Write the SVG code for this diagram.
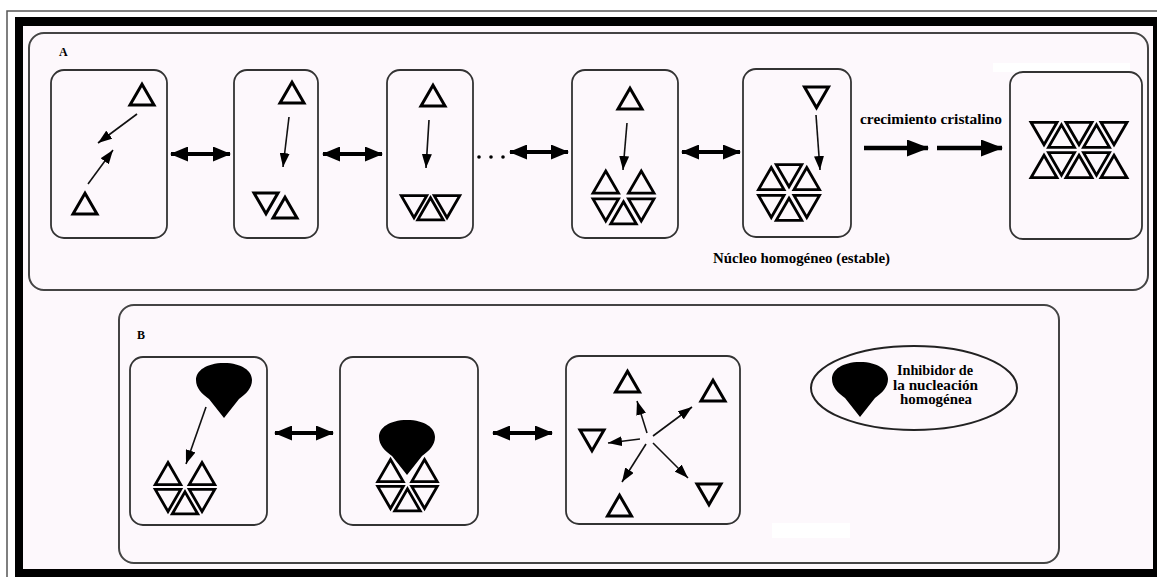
<svg xmlns="http://www.w3.org/2000/svg" xmlns:xlink="http://www.w3.org/1999/xlink" width="1157" height="577" viewBox="0 0 1157 577">
<style>
.panel{fill:none;stroke:#444;stroke-width:2}
.box{fill:none;stroke:#333;stroke-width:1.8}
.tri{fill:none;stroke:#000;stroke-width:3;stroke-linejoin:miter}
.htri{fill:none;stroke:#000;stroke-width:2.8;stroke-linejoin:miter}
.thin{stroke:#111;stroke-width:1.6;fill:none;marker-end:url(#ah)}
.dbl{stroke:#000;stroke-width:4;fill:none;marker-start:url(#dh);marker-end:url(#dh)}
.grow{stroke:#000;stroke-width:4.5;fill:none;marker-end:url(#gh)}
.lbl{font-family:"Liberation Serif","DejaVu Serif",serif;font-weight:bold;fill:#000}
.blob{fill:#000}
</style>
<defs>
<path id="tu" d="M0,-13.86 L12,6.93 L-12,6.93 Z"/>
<path id="td" d="M0,13.86 L12,-6.93 L-12,-6.93 Z"/>
<path id="hu" d="M0,-14.72 L12.75,7.36 L-12.75,7.36 Z"/>
<path id="hd" d="M0,14.72 L12.75,-7.36 L-12.75,-7.36 Z"/>
<path id="lu" d="M0,-15.01 L13,7.5 L-13,7.5 Z"/>
<path id="ld" d="M0,15.01 L13,-7.5 L-13,-7.5 Z"/>
<path id="inh" d="M0,0 C18,0 28,8 28,17 C28,25 22,31 15,36 L0,55 L-15,36 C-22,31 -28,25 -28,17 C-28,8 -18,0 0,0 Z"/>
<marker id="ah" viewBox="0 0 14 10" refX="14" refY="5" markerWidth="14" markerHeight="10" orient="auto" markerUnits="userSpaceOnUse"><path d="M0,0 L14,5 L0,10 Z" fill="#000"/></marker>
<marker id="dh" viewBox="0 0 18 15" refX="17" refY="7.5" markerWidth="18" markerHeight="15" orient="auto-start-reverse" markerUnits="userSpaceOnUse"><path d="M0,0 L18,7.5 L0,15 Z" fill="#000"/></marker>
<marker id="gh" viewBox="0 0 22 17" refX="21" refY="8.5" markerWidth="22" markerHeight="17" orient="auto" markerUnits="userSpaceOnUse"><path d="M0,0 L22,8.5 L0,17 Z" fill="#000"/></marker>
</defs>

<!-- frame -->
<rect x="0" y="0" width="1157" height="577" fill="#fff"/>
<path d="M7,577 L7,11 L1157,11" fill="none" stroke="#555" stroke-width="1.5"/>
<rect x="15" y="17" width="1142" height="560" fill="#000"/>
<rect x="23" y="26" width="1130" height="543" fill="#fdf8fc"/>
<rect x="993" y="63" width="137" height="9" fill="#fff"/>
<rect x="772" y="523" width="78" height="15" fill="#fff"/>

<!-- Panel A -->
<g id="panelA">
<rect class="panel" x="29" y="33" width="1119" height="257" rx="15"/>
<text class="lbl" x="59" y="56" font-size="12" fill="#333">A</text>
</g>

<g id="a1">
<rect class="box" x="51" y="70" width="116" height="168" rx="13"/>
<use href="#tu" class="tri" x="142" y="98"/>
<use href="#tu" class="tri" x="85" y="207"/>
</g>
<g id="a2">
<rect class="box" x="234" y="70" width="84" height="168" rx="13"/>
<use href="#tu" class="tri" x="292" y="96"/>
<use href="#td" class="tri" x="266" y="200"/>
<use href="#tu" class="tri" x="285" y="211"/>
</g>
<g id="a3">
<rect class="box" x="387" y="70" width="86" height="168" rx="13"/>
<use href="#tu" class="tri" x="433" y="99"/>
<use href="#hd" class="htri" x="414" y="203"/>
<use href="#hu" class="htri" x="430.5" y="212.5"/>
<use href="#hd" class="htri" x="447" y="203"/>
</g>
<g id="a4">
<rect class="box" x="572" y="70" width="106" height="168" rx="13"/>
<use href="#tu" class="tri" x="630" y="102"/>
<g transform="translate(623.5,196)">
<use href="#hu" class="htri" x="17.75" y="-10.25"/>
<use href="#hu" class="htri" x="-17.75" y="-10.25"/>
<use href="#hd" class="htri" x="-17.75" y="10.25"/>
<use href="#hu" class="htri" x="0" y="20.5"/>
<use href="#hd" class="htri" x="17.75" y="10.25"/>
</g>
</g>
<g id="a5">
<rect class="box" x="743" y="69" width="108" height="168" rx="13"/>
<use href="#td" class="tri" x="816.5" y="94"/>
<g transform="translate(789,192.5)">
<use href="#hu" class="htri" x="17.75" y="-10.25"/>
<use href="#hd" class="htri" x="0" y="-20.5"/>
<use href="#hu" class="htri" x="-17.75" y="-10.25"/>
<use href="#hd" class="htri" x="-17.75" y="10.25"/>
<use href="#hu" class="htri" x="0" y="20.5"/>
<use href="#hd" class="htri" x="17.75" y="10.25"/>
</g>
</g>
<g id="a6">
<rect class="box" x="1010" y="72" width="132" height="167" rx="13"/>
<g transform="translate(1079,150)">
<use href="#ld" class="htri" x="-35" y="-20.2"/>
<use href="#lu" class="htri" x="-17.5" y="-10.1"/>
<use href="#ld" class="htri" x="0" y="-20.2"/>
<use href="#lu" class="htri" x="17.5" y="-10.1"/>
<use href="#ld" class="htri" x="35" y="-20.2"/>
<use href="#lu" class="htri" x="-35" y="20.2"/>
<use href="#ld" class="htri" x="-17.5" y="10.1"/>
<use href="#lu" class="htri" x="0" y="20.2"/>
<use href="#ld" class="htri" x="17.5" y="10.1"/>
<use href="#lu" class="htri" x="35" y="20.2"/>
</g>
</g>

<text class="lbl" x="860" y="124" font-size="14.5" textLength="142" lengthAdjust="spacingAndGlyphs">crecimiento cristalino</text>
<text class="lbl" x="713" y="263" font-size="14.5" textLength="177" lengthAdjust="spacingAndGlyphs">Núcleo homogéneo (estable)</text>

<!-- Panel B -->
<g id="panelB">
<rect class="panel" x="119" y="305" width="940" height="258" rx="15"/>
<text class="lbl" x="137" y="339" font-size="12" fill="#333">B</text>
</g>
<g id="b1">
<rect class="box" x="130" y="357" width="137" height="168" rx="13"/>
<use href="#inh" class="blob" x="224" y="363"/>
<g transform="translate(185,487)">
<use href="#hu" class="htri" x="17" y="-9.8"/>
<use href="#hu" class="htri" x="-17" y="-9.8"/>
<use href="#hd" class="htri" x="-17" y="9.8"/>
<use href="#hu" class="htri" x="0" y="19.6"/>
<use href="#hd" class="htri" x="17" y="9.8"/>
</g>
</g>
<g id="b2">
<rect class="box" x="340" y="357" width="138" height="168" rx="13"/>
<g transform="translate(407.5,484)">
<use href="#hu" class="htri" x="17" y="-9.8"/>
<use href="#hu" class="htri" x="-17" y="-9.8"/>
<use href="#hd" class="htri" x="-17" y="9.8"/>
<use href="#hu" class="htri" x="0" y="19.6"/>
<use href="#hd" class="htri" x="17" y="9.8"/>
</g>
<use href="#inh" class="blob" x="407" y="420"/>
</g>
<g id="b3">
<rect class="box" x="566" y="356" width="174" height="168" rx="13"/>
<use href="#tu" class="tri" x="627.5" y="385"/>
<use href="#tu" class="tri" x="713" y="394"/>
<use href="#td" class="tri" x="592" y="437"/>
<use href="#td" class="tri" x="709" y="491"/>
<use href="#tu" class="tri" x="619.5" y="509"/>
</g>
<g id="legend">
<ellipse cx="914" cy="388" rx="103" ry="42" fill="none" stroke="#222" stroke-width="2"/>
<use href="#inh" class="blob" x="860" y="362"/>
<text class="lbl" font-size="14" text-anchor="middle"><tspan x="935" y="375" textLength="76" lengthAdjust="spacingAndGlyphs">Inhibidor de</tspan><tspan x="935.5" y="389.5" textLength="85" lengthAdjust="spacingAndGlyphs">la nucleación</tspan><tspan x="936" y="404" textLength="72" lengthAdjust="spacingAndGlyphs">homogénea</tspan></text>
</g>

<!-- connectors -->
<g id="connectors">
<line class="thin" x1="137" y1="114" x2="98" y2="143"/>
<line class="thin" x1="88" y1="184" x2="113" y2="150"/>
<line class="thin" x1="289" y1="117" x2="283" y2="167"/>
<line class="thin" x1="429" y1="120" x2="426" y2="168"/>
<line class="thin" x1="627" y1="123" x2="623" y2="170"/>
<line class="thin" x1="816" y1="115" x2="820" y2="170"/>
<line class="dbl" x1="171" y1="154" x2="230" y2="154"/>
<line class="dbl" x1="323" y1="154" x2="382" y2="154"/>
<line class="dbl" x1="510" y1="152" x2="568" y2="152"/>
<line class="dbl" x1="682" y1="152" x2="740" y2="152"/>
<circle cx="479" cy="157" r="1.8" fill="#000"/>
<circle cx="491" cy="157" r="1.8" fill="#000"/>
<circle cx="503" cy="157" r="1.8" fill="#000"/>
<line class="grow" x1="864" y1="148" x2="928" y2="148"/>
<line class="grow" x1="937" y1="148" x2="1002" y2="148"/>
<line class="thin" x1="206" y1="407" x2="186" y2="464"/>
<line class="dbl" x1="275" y1="433" x2="333" y2="433"/>
<line class="dbl" x1="493" y1="433" x2="552" y2="433"/>
<line class="thin" x1="647" y1="433" x2="637" y2="401"/>
<line class="thin" x1="653" y1="436" x2="692" y2="407"/>
<line class="thin" x1="640" y1="439" x2="608" y2="443"/>
<line class="thin" x1="646" y1="444" x2="622" y2="482"/>
<line class="thin" x1="653" y1="443" x2="688" y2="478"/>
</g>
</svg>
